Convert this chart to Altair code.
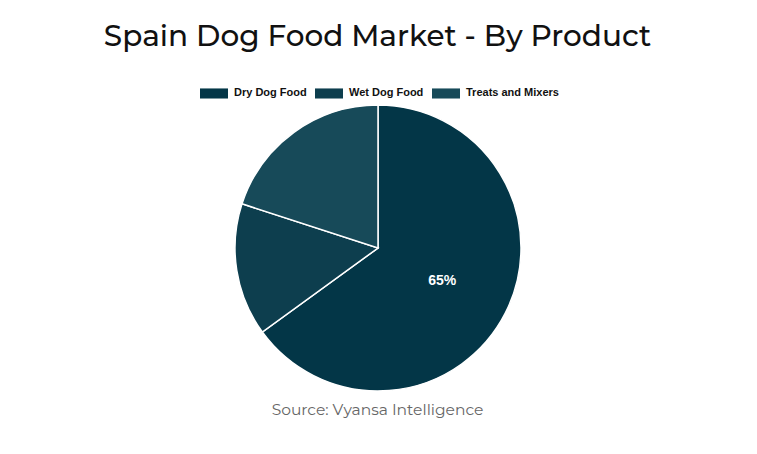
import altair as alt
import pandas as pd

categories = ["Dry Dog Food", "Wet Dog Food", "Treats and Mixers"]
shares = [65, 15, 20]
colors = ["#033647", "#0d3e4e", "#174a59"]
title_text = "Spain Dog Food Market - By Product"
source_text = "Source: Vyansa Intelligence"

df = pd.DataFrame({
    "category": categories,
    "share": shares,
    "order": list(range(len(categories))),
    "label": [f"{v}%" for v in shares],
})

W, H = 741, 438
CX, CY, R = 370, 240, 143

base = alt.Chart(df).encode(
    theta=alt.Theta("share:Q", stack=True),
    order=alt.Order("order:Q"),
)

arcs = base.mark_arc(outerRadius=R, stroke="white", strokeWidth=1.5).encode(
    x=alt.value(CX),
    y=alt.value(CY),
    color=alt.Color(
        "category:N",
        scale=alt.Scale(domain=categories, range=colors),
        sort=categories,
        legend=alt.Legend(
            title=None,
            orient="none",
            direction="horizontal",
            legendX=192,
            legendY=71,
            symbolType="M-1,-0.36H1V0.36H-1Z",
            symbolSize=784,
            symbolStrokeWidth=0,
            labelFont="Liberation Sans",
            labelFontSize=11,
            labelFontWeight="bold",
            labelColor="#111111",
            labelOffset=6,
            columnPadding=8,
        ),
    ),
)

labels = base.mark_text(
    radius=72, font="Liberation Sans", fontSize=14, fontWeight="bold", color="white"
).encode(
    x=alt.value(CX),
    y=alt.value(CY),
    text=alt.Text("label:N"),
    opacity=alt.condition(alt.datum.share > 30, alt.value(1), alt.value(0)),
)

title = alt.Chart(pd.DataFrame({"t": [title_text]})).mark_text(
    font="Montserrat, Open Sans", fontSize=29.5, fontWeight=500, color="#111111",
    align="center", baseline="middle"
).encode(text="t:N", x=alt.value(W / 2 - 1), y=alt.value(29))

source = alt.Chart(pd.DataFrame({"t": [source_text]})).mark_text(
    font="Montserrat, Open Sans", fontSize=15.5, color="#666666", align="center", baseline="middle"
).encode(text="t:N", x=alt.value(W / 2 - 1), y=alt.value(402))

chart = alt.layer(arcs, labels, title, source).properties(
    width=W, height=H, autosize=alt.AutoSizeParams(type="none"), padding=0
).configure_view(stroke=None)

chart.save("out.html", embed_options={"renderer": "svg", "actions": False})
